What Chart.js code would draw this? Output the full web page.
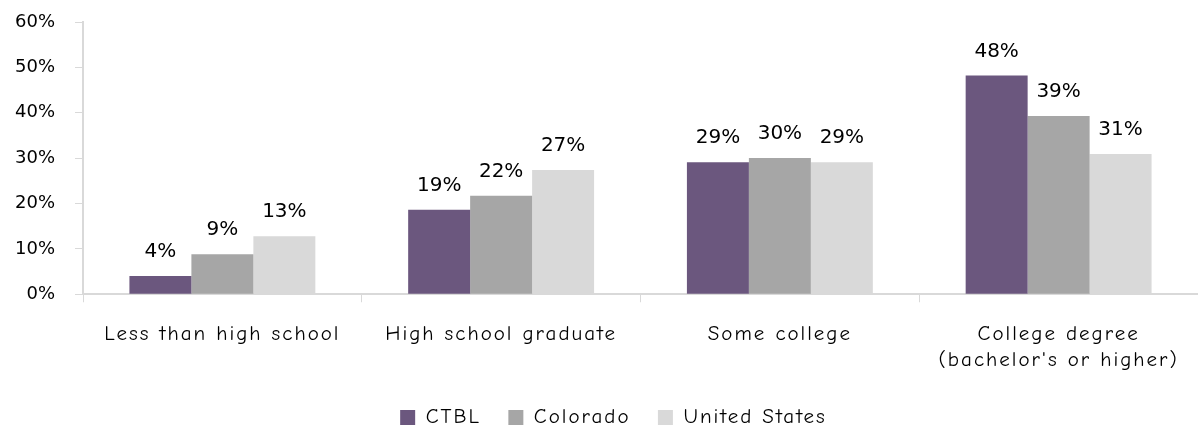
<!DOCTYPE html>
<html>
<head>
<meta charset="utf-8">
<script src="https://cdn.jsdelivr.net/npm/chart.js@4/dist/chart.umd.min.js"></script>
<style>
html,body{margin:0;padding:0;background:#fff;}
#wrap{width:1198px;height:429px;}
</style>
</head>
<body>
<div id="wrap"><canvas id="c" width="1198" height="429"></canvas></div>
<script>
const categories = [
  "Less than high school",
  "High school graduate",
  "Some college",
  ["College degree", "(bachelor's or higher)"]
];
const seriesNames = ["CTBL", "Colorado", "United States"];
const ctblValues = [4.0, 18.6, 29.1, 48.2];
const coloradoValues = [8.8, 21.7, 30.0, 39.3];
const usValues = [12.8, 27.4, 29.1, 30.9];
const yTicks = [0, 10, 20, 30, 40, 50, 60];

const FONT = "'Comic Sans MS', 'Comic Neue', 'DejaVu Sans', sans-serif";
const NUMFONT = "'DejaVu Sans', sans-serif";
const colors = ["#6B577E", "#A6A6A6", "#D9D9D9"];
const SPACING = "2px";

const spacingPlugin = {
  id: 'spacing',
  afterInit(chart) { chart.ctx.letterSpacing = SPACING; },
  beforeUpdate(chart) { chart.ctx.letterSpacing = SPACING; },
  afterUpdate(chart) {
    const s = chart.scales.y;
    if (!s._patched) {
      const orig = s.drawLabels;
      s.drawLabels = function (area) {
        const ctx = this.ctx;
        ctx.save();
        ctx.letterSpacing = "0px";
        orig.call(this, area);
        ctx.restore();
      };
      s._patched = true;
    }
  },
  afterLayout(chart) {
    if (chart.legend) { chart.legend.left += 20; chart.legend.right += 20; }
  },
  beforeDraw(chart) { chart.ctx.letterSpacing = SPACING; }
};

const labelPlugin = {
  id: 'barLabels',
  afterDatasetsDraw(chart) {
    const ctx = chart.ctx;
    ctx.save();
    ctx.letterSpacing = "0px";
    ctx.font = "20px " + NUMFONT;
    ctx.fillStyle = "#000";
    ctx.textAlign = "center";
    ctx.textBaseline = "alphabetic";
    chart.data.datasets.forEach((ds, i) => {
      const meta = chart.getDatasetMeta(i);
      meta.data.forEach((bar, j) => {
        ctx.fillText(Math.round(ds.data[j]) + "%", bar.x, bar.y - 19);
      });
    });
    ctx.restore();
  }
};

new Chart(document.getElementById('c'), {
  type: 'bar',
  data: {
    labels: categories,
    datasets: [
      { label: seriesNames[0], data: ctblValues, backgroundColor: colors[0] },
      { label: seriesNames[1], data: coloradoValues, backgroundColor: colors[1] },
      { label: seriesNames[2], data: usValues, backgroundColor: colors[2] }
    ]
  },
  options: {
    responsive: false,
    animation: false,
    devicePixelRatio: 1,
    layout: { padding: { top: 22, left: -11, right: 0, bottom: -9 } },
    datasets: { bar: { barPercentage: 1.0, categoryPercentage: 0.667 } },
    scales: {
      x: {
        grid: { offset: true, drawOnChartArea: false, drawTicks: true, tickLength: 8, color: "#D9D9D9" },
        border: { color: "#D9D9D9", width: 2 },
        ticks: { color: "#000", font: { family: FONT, size: 21, lineHeight: 1.28 }, padding: 18, maxRotation: 0, autoSkip: false }
      },
      y: {
        min: 0, max: 60,
        afterBuildTicks(axis) { axis.ticks = yTicks.map(v => ({ value: v })); },
        afterFit(scale) { scale.paddingTop = 0; scale.paddingBottom = 0; },
        grid: { drawOnChartArea: false, drawTicks: true, tickLength: 8, color: "#D9D9D9" },
        border: { color: "#D9D9D9", width: 2 },
        ticks: { color: "#000", font: { family: NUMFONT, size: 18 }, padding: 20, callback: v => v + "%" }
      }
    },
    plugins: {
      legend: {
        position: 'bottom',
        labels: {
          color: "#000", font: { family: FONT, size: 21 }, boxWidth: 15, boxHeight: 15, padding: 15,
          generateLabels(chart) {
            const items = Chart.defaults.plugins.legend.labels.generateLabels(chart);
            items.forEach((it, i) => { if (i < items.length - 1) it.text = it.text + " \u200A"; });
            return items;
          }
        }
      },
      tooltip: { enabled: false }
    }
  },
  plugins: [spacingPlugin, labelPlugin]
});
</script>
</body>
</html>
